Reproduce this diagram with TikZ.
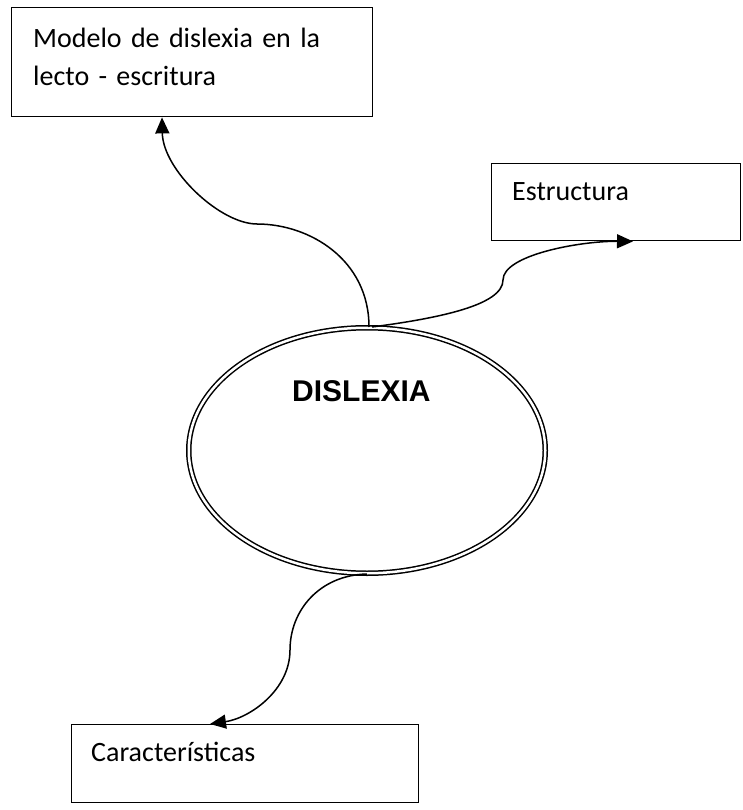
\documentclass[tikz,border=0pt]{standalone}
\usepackage{fontspec}
\setmainfont{Carlito}[WordSpace=0.75]
\newfontfamily\titlefont{Liberation Sans}
\usetikzlibrary{shapes.geometric, arrows.meta}

\begin{document}
\begin{tikzpicture}[x=1pt, y=-1pt, every node/.style={inner sep=0pt},
    caja/.style={draw, line width=1.4pt, anchor=north west},
    texto/.style={anchor=base west, font=\fontsize{28}{38}\selectfont, align=left},
    flecha/.style={line width=1.5pt, -{Triangle[length=16pt, width=14pt]}}]

    \useasboundingbox (0,0) rectangle (742,810);

    \node [caja, minimum width=361pt, minimum height=109pt] (modelo) at (11,7) {};
    \node [caja, minimum width=249pt, minimum height=77pt] (estructura) at (491,163) {};
    \node [caja, minimum width=347pt, minimum height=78pt] (caracteristicas) at (71,724) {};

    \node [texto, text width=330pt] (tmodelo) at (33,48) {Modelo de dislexia en la\\lecto - escritura};
    \node [texto] (testructura) at (512,201) {Estructura};
    \node [texto] (tcaracteristicas) at (91,761) {Características};

    \node [draw, ellipse, double, line width=1.5pt, double distance=2.5pt,
           minimum width=356.5pt, minimum height=245.5pt] (dislexia) at (367,450.5) {};
    \node [anchor=base west, font=\titlefont\bfseries\fontsize{30}{36}\selectfont] (tdislexia) at (292,401) {DISLEXIA};

    \draw [flecha] ([xshift=2pt]dislexia.north) .. controls (369,260) and (310,224) .. (257,224)
        .. controls (220,224) and (163,170) .. ([xshift=151pt]modelo.south west);
    \draw [flecha] ([xshift=5pt]dislexia.north) .. controls (440,318) and (503,305) .. (503,280)
        .. controls (503,255) and (580,241) .. ([xshift=142pt]estructura.south west);
    \draw [flecha] (dislexia.south) .. controls (320,575) and (290,610) .. (290,650)
        .. controls (290,690) and (250,718) .. ([xshift=139pt]caracteristicas.north west);

\end{tikzpicture}
\end{document}
